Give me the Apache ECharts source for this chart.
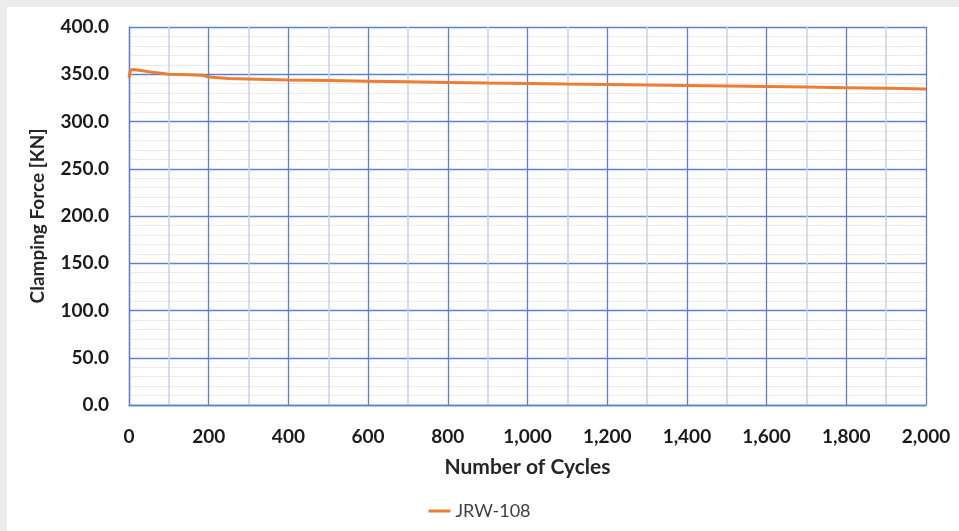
<!DOCTYPE html>
<html>
<head>
<meta charset="utf-8">
<script src="https://cdn.jsdelivr.net/npm/echarts@6/dist/echarts.min.js"></script>
<style>
html,body{margin:0;padding:0;background:#ececec;}
#panel{position:absolute;left:7px;top:7px;width:952px;height:524px;background:#ffffff;}
#chart{position:absolute;left:0;top:0;width:959px;height:531px;}
</style>
</head>
<body>
<div id="panel"></div>
<div id="chart"></div>
<script>
const cycles = [0, 3, 10, 30, 60, 100, 150, 185, 200, 250, 300, 400, 500, 600, 700, 800, 900, 1000, 1100, 1200, 1300, 1400, 1500, 1600, 1700, 1800, 1900, 2000];
const force = [346, 354, 355, 354, 352, 350, 349.5, 349, 347, 345.5, 345, 344, 343.3, 342.6, 342, 341.4, 340.8, 340.3, 339.7, 339.2, 338.7, 338.2, 337.6, 337, 336.4, 335.8, 335.1, 334.4];
const seriesName = 'JRW-108';
const xTitle = 'Number of Cycles';
const yTitle = 'Clamping Force [KN]';

const chart = echarts.init(document.getElementById('chart'), null, {renderer: 'canvas'});
const major = '#5b7fd2';
const font = 'Lato, "Open Sans", sans-serif';
chart.setOption({
  backgroundColor: 'transparent',
  animation: false,
  grid: {left: 129, right: 33, top: 27, bottom: 126, containLabel: false},
  legend: {
    bottom: 6, left: 'center', icon: 'rect', itemWidth: 22, itemHeight: 3, itemGap: 4,
    textStyle: {fontFamily: font, fontSize: 18, color: '#404040'},
    data: [seriesName]
  },
  xAxis: {
    type: 'value', min: 0, max: 2000, interval: 200,
    name: xTitle, nameLocation: 'middle', nameGap: 52,
    nameTextStyle: {fontFamily: font, fontSize: 21, fontWeight: 'bold', color: '#262626'},
    axisLine: {show: true, lineStyle: {color: major, width: 1.3}},
    axisTick: {show: false},
    axisLabel: {margin: 22, fontFamily: font, fontSize: 19, fontWeight: 'bold', color: '#1a1a1a',
      formatter: v => v.toLocaleString('en-US')},
    splitLine: {show: true, lineStyle: {color: major, width: 1.3}},
    minorTick: {show: false, splitNumber: 2},
    minorSplitLine: {show: true, lineStyle: {color: '#c3d2ee', width: 1.5}}
  },
  yAxis: {
    type: 'value', min: 0, max: 400, interval: 50,
    name: yTitle, nameLocation: 'middle', nameGap: 82, nameRotate: 90,
    nameTextStyle: {fontFamily: font, fontSize: 19, fontWeight: 'bold', color: '#262626'},
    axisLine: {show: true, lineStyle: {color: major, width: 1.3}},
    axisTick: {show: false},
    axisLabel: {margin: 20, fontFamily: font, fontSize: 19, fontWeight: 'bold', color: '#1a1a1a',
      formatter: v => v.toFixed(1)},
    splitLine: {show: true, lineStyle: {color: major, width: 1.3}},
    minorTick: {show: false, splitNumber: 5},
    minorSplitLine: {show: true, lineStyle: {color: '#ebebeb', width: 1}}
  },
  series: [{
    name: seriesName, type: 'line', showSymbol: false, smooth: false,
    data: cycles.map((c, i) => [c, force[i]]),
    lineStyle: {color: '#ed7d31', width: 3},
    itemStyle: {color: '#ed7d31'}
  }]
});
</script>
</body>
</html>
